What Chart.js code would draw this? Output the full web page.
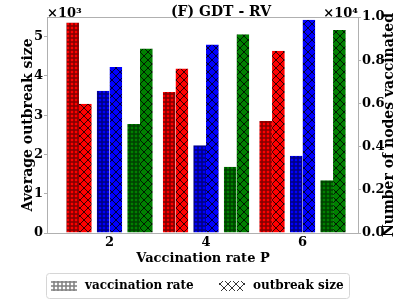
<!DOCTYPE html>
<html><head><meta charset="utf-8">
<script src="https://cdn.jsdelivr.net/npm/chart.js@4.4.1/dist/chart.umd.min.js"></script>
<style>html,body{margin:0;padding:0;background:#fff;}canvas{display:block;}</style>
</head><body>
<canvas id="c" width="399" height="300"></canvas>
<script>
// ---- data ----
const pValues = [2, 4, 6];
const seriesColors = ['#ff0000', '#0000ff', '#008000'];
const vaccinatedRed = [9750, 6530, 5180];
const vaccinatedBlue = [6590, 4060, 3580];
const vaccinatedGreen = [5050, 3070, 2440];
const outbreakRed = [3290, 4190, 4640];
const outbreakBlue = [4230, 4800, 5430];
const outbreakGreen = [4700, 5060, 5170];
const leftTickValues = [0, 1000, 2000, 3000, 4000, 5000];
const rightTickValues = [0, 2000, 4000, 6000, 8000, 10000];
const chartTitle = '(F) GDT - RV';
const xTitle = 'Vaccination rate P';
const yLeftTitle = 'Average outbreak size';
const yRightTitle = 'Number of nodes vaccinated';
const legendLabels = ['vaccination rate', 'outbreak size'];

const FONT = '"DejaVu Serif", "Liberation Serif", serif';
const GRAY = '#b0b0b0';

function crossPattern(bg) {
  const s = 8, c = document.createElement('canvas');
  c.width = s; c.height = s;
  const g = c.getContext('2d');
  g.fillStyle = bg; g.fillRect(0, 0, s, s);
  g.strokeStyle = '#000'; g.lineWidth = 0.8;
  g.beginPath();
  g.moveTo(-1, -1); g.lineTo(s + 1, s + 1);
  g.moveTo(s + 1, -1); g.lineTo(-1, s + 1);
  g.stroke();
  return g.createPattern(c, 'repeat');
}
function dotPattern(bg) {
  const s = 4, c = document.createElement('canvas');
  c.width = s; c.height = s;
  const g = c.getContext('2d');
  g.fillStyle = bg; g.fillRect(0, 0, s, s);
  g.strokeStyle = '#000'; g.lineWidth = 0.7;
  g.beginPath(); g.arc(2, 2, 1.25, 0, Math.PI * 2); g.stroke();
  return g.createPattern(c, 'repeat');
}

const vaccinated = [vaccinatedRed, vaccinatedBlue, vaccinatedGreen];
const outbreak = [outbreakRed, outbreakBlue, outbreakGreen];
const datasets = [];
seriesColors.forEach((col, i) => {
  datasets.push({
    label: legendLabels[0], data: vaccinated[i], yAxisID: 'y2',
    backgroundColor: dotPattern(col), borderColor: '#ffffff',
    borderWidth: {left: 2.7, right: 0, top: 0, bottom: 0}, borderSkipped: false
  });
  datasets.push({
    label: legendLabels[1], data: outbreak[i], yAxisID: 'y',
    backgroundColor: crossPattern(col), borderColor: '#ffffff',
    borderWidth: {left: 0, right: 2.7, top: 0, bottom: 0}, borderSkipped: false
  });
});

const decor = {
  id: 'decor',
  afterDraw(chart) {
    const ctx = chart.ctx, a = chart.chartArea;
    ctx.save();
    // frame
    ctx.strokeStyle = GRAY; ctx.lineWidth = 1;
    ctx.strokeRect(Math.round(a.left) + 0.5, Math.round(a.top) + 0.5,
      Math.round(a.right - a.left) - 1, Math.round(a.bottom - a.top));
    ctx.fillStyle = '#000';
    // title
    ctx.font = 'bold 14px ' + FONT;
    ctx.textAlign = 'center'; ctx.textBaseline = 'middle';
    ctx.fillText(chartTitle, 221, 12);
    // offsets
    ctx.font = 'bold 13px ' + FONT;
    ctx.textBaseline = 'alphabetic';
    ctx.textAlign = 'left'; ctx.fillText('×10³', a.left, 16.5);
    ctx.textAlign = 'right'; ctx.fillText('×10⁴', a.right - 1, 16.5);
    // right title
    ctx.save();
    ctx.translate(389.5, (a.top + a.bottom) / 2);
    ctx.rotate(-Math.PI / 2);
    ctx.font = 'bold 14px ' + FONT;
    ctx.textAlign = 'center'; ctx.textBaseline = 'middle';
    ctx.fillText(yRightTitle, 0, 0);
    ctx.restore();
    // legend
    const lx = 46, ly = 273, lw = 303, lh = 25, r = 3;
    ctx.beginPath();
    ctx.roundRect(lx + 0.5, ly + 0.5, lw, lh, r);
    ctx.fillStyle = 'rgba(255,255,255,0.85)'; ctx.fill();
    ctx.strokeStyle = '#d6d6d6'; ctx.stroke();
    const cy = ly + lh / 2 + 0.5;
    ctx.fillStyle = dotPattern('#ffffff');
    ctx.fillRect(51, cy - 5, 26, 10);
    ctx.fillStyle = crossPattern('#ffffff');
    ctx.fillRect(219, cy - 5, 26, 10);
    ctx.fillStyle = '#000';
    ctx.font = 'bold 12px ' + FONT;
    ctx.textAlign = 'left'; ctx.textBaseline = 'middle';
    ctx.fillText(legendLabels[0], 85, cy);
    ctx.fillText(legendLabels[1], 253, cy);
    ctx.restore();
  }
};

new Chart(document.getElementById('c'), {
  type: 'bar',
  data: { labels: pValues, datasets },
  options: {
    responsive: false, animation: false, devicePixelRatio: 1,
    categoryPercentage: 0.948, barPercentage: 1.0,
    layout: { padding: { top: 17, bottom: 27, left: 0, right: 0 } },
    plugins: { legend: { display: false }, tooltip: { enabled: false } },
    scales: {
      x: {
        type: 'linear', offset: false, min: 0.705, max: 7.17,
        afterFit: s => { s.height = 40; },
        afterBuildTicks: s => { s.ticks = pValues.map(v => ({ value: v })); },
        ticks: { padding: 2, color: '#000',
          font: { family: FONT, weight: 'bold', size: 13 } },
        grid: { display: true, drawOnChartArea: false, drawTicks: false, color: GRAY },
        border: { display: false },
        title: { display: true, text: xTitle, color: '#000', padding: { top: 0, bottom: 7 },
          font: { family: FONT, weight: 'bold', size: 13 } }
      },
      y: {
        position: 'left', min: 0, max: 5500,
        afterFit: s => { s.width = 47; },
        afterBuildTicks: s => { s.ticks = leftTickValues.map(v => ({ value: v })); },
        ticks: { padding: 1, color: '#000',
          font: { family: FONT, weight: 'bold', size: 13 },
          callback: v => String(v / 1000) },
        grid: { drawOnChartArea: false, tickLength: 3, color: GRAY },
        border: { display: false },
        title: { display: true, text: yLeftTitle, color: '#000', padding: { top: 19.5, bottom: 0 },
          font: { family: FONT, weight: 'bold', size: 14 } }
      },
      y2: {
        position: 'right', min: 0, max: 10000,
        afterFit: s => { s.width = 40; },
        afterBuildTicks: s => { s.ticks = rightTickValues.map(v => ({ value: v })); },
        ticks: { padding: 1, color: '#000',
          font: { family: FONT, weight: 'bold', size: 13 },
          callback: v => (v / 10000).toFixed(1) },
        grid: { drawOnChartArea: false, tickLength: 2, color: GRAY },
        border: { display: false }
      }
    }
  },
  plugins: [decor]
});
</script>
</body></html>
